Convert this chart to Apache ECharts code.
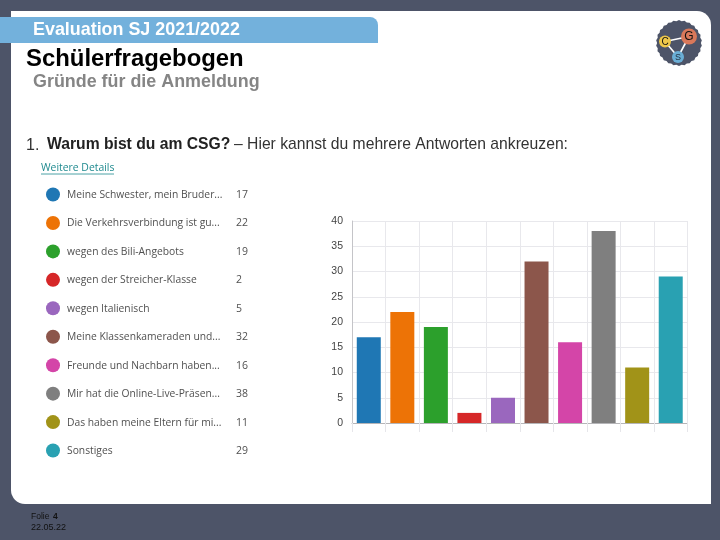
<!DOCTYPE html>
<html><head><meta charset="utf-8">
<style>html,body{margin:0;padding:0;background:#4d5468}#c{width:720px;height:540px}</style>
<script src="https://cdn.jsdelivr.net/npm/echarts@6/dist/echarts.min.js"></script>
</head><body><div id="c"></div>
<script>
const categories = ["Meine Schwester, mein Bruder...","Die Verkehrsverbindung ist gu...","wegen des Bili-Angebots","wegen der Streicher-Klasse","wegen Italienisch","Meine Klassenkameraden und...","Freunde und Nachbarn haben...","Mir hat die Online-Live-Präsen...","Das haben meine Eltern für mi...","Sonstiges"];
const values = [17,22,19,2,5,32,16,38,11,29];
const colors = ["#1f77b4","#ed7306","#2ca02c","#d62728","#9a67be","#8c564b","#d445a8","#7f7f7f","#a19318","#29a1b2"];
const yTicks = {min:0,max:40,interval:5};

const sans = '"Liberation Sans",Arial,sans-serif';
const ui = '"Open Sans","Noto Sans",sans-serif';
function T(x,y,text,size,color,weight,family,extra){
  return Object.assign({type:'text',x,y,style:{text,fontSize:size,fill:color,fontWeight:weight||'normal',fontFamily:family||sans,textVerticalAlign:'middle'}},extra||{});
}
function scallop(cx,cy,r,n){
  const p=[];
  for(let i=0;i<n*2;i++){const a=i*Math.PI/n;const rr=i%2?r:r-1.1;p.push([cx+rr*Math.cos(a),cy+rr*Math.sin(a)]);}
  return p;
}
const graphic=[
  {type:'rect',shape:{x:0,y:0,width:720,height:540},style:{fill:'#4d5468'}},
  {type:'rect',shape:{x:11,y:11,width:700,height:493,r:[0,14,0,14]},style:{fill:'#ffffff'}},
  {type:'rect',shape:{x:0,y:17,width:378,height:26,r:[0,8,0,0]},style:{fill:'#73b1dc'}},
  T(33,30,'Evaluation SJ 2021/2022',17.9,'#ffffff','bold'),
  T(26,59.5,'Schülerfragebogen',23.9,'#000000','bold'),
  T(33,82.5,'Gründe für die Anmeldung',17.9,'#858585','bold'),
  T(26,146,'1.',16,'#333333'),
  T(47,145,'Warum bist du am CSG?',15.7,'#222222','bold'),
  T(234,145,'– Hier kannst du mehrere Antworten ankreuzen:',15.7,'#333333'),
  T(41,168,'Weitere Details',10.4,'#1f8a8f','normal',ui),
  {type:'line',shape:{x1:41,y1:174,x2:114,y2:174},style:{stroke:'#1f8a8f',lineWidth:0.8}},
  T(31,517,'Folie ',8.5,'#111111'),
  T(53,517,'4',8.5,'#111111','bold'),
  T(31,528,'22.05.22',9,'#111111'),
  {type:'polygon',shape:{points:scallop(679,43,23,26)},style:{fill:'#4d5468'}},
  {type:'line',shape:{x1:665,y1:41.5,x2:689,y2:36.5},style:{stroke:'#fff',lineWidth:1.6}},
  {type:'line',shape:{x1:665,y1:41.5,x2:678,y2:57},style:{stroke:'#fff',lineWidth:1.6}},
  {type:'line',shape:{x1:689,y1:36.5,x2:678,y2:57},style:{stroke:'#fff',lineWidth:1.6}},
  {type:'circle',shape:{cx:665,cy:41.5,r:6},style:{fill:'#eec84a'}},
  {type:'circle',shape:{cx:689,cy:36.5,r:8},style:{fill:'#d9785a'}},
  {type:'circle',shape:{cx:678,cy:57,r:6},style:{fill:'#6aaed6'}},
  {type:'text',x:665,y:42,style:{text:'C',fontSize:10,fill:'#111',fontWeight:'normal',fontFamily:sans,align:'center',verticalAlign:'middle'}},
  {type:'text',x:689,y:37,style:{text:'G',fontSize:12,fill:'#111',fontWeight:'normal',fontFamily:sans,align:'center',verticalAlign:'middle'}},
  {type:'text',x:678,y:57.5,style:{text:'S',fontSize:9,fill:'#234',fontWeight:'normal',fontFamily:sans,align:'center',verticalAlign:'middle'}}
];
const chart=echarts.init(document.getElementById('c'),null,{renderer:'canvas'});
chart.setOption({
  animation:false,
  color:colors,
  graphic:{elements:graphic.map(g=>Object.assign({z:-10,zlevel:0},g))},
  grid:{left:352,right:32.5,top:221,bottom:117,containLabel:false},
  legend:{
    orient:'vertical',left:41,top:182.5,itemWidth:14,itemHeight:14,itemGap:14.45,icon:'circle',selectedMode:false,
    data:categories,
    formatter:n=>`{n|${n}}{v|${values[categories.indexOf(n)]}}`,
    textStyle:{rich:{
      n:{width:169,fontSize:10.3,color:'#505050',fontFamily:ui,padding:[1,0,0,2],lineHeight:14},
      v:{width:30,fontSize:10.5,color:'#505050',fontFamily:ui,padding:[1,0,0,0],lineHeight:14}
    }}
  },
  xAxis:{type:'category',data:categories,
    axisLabel:{show:false},
    axisLine:{lineStyle:{color:'#b5b5b8',width:1}},
    axisTick:{show:true,alignWithLabel:false,interval:0,length:9,lineStyle:{color:'#e6e6ea'}},
    splitLine:{show:true,interval:0,lineStyle:{color:'#e8e8ec',width:1}}},
  yAxis:{type:'value',min:yTicks.min,max:yTicks.max,interval:yTicks.interval,
    axisLine:{show:true,lineStyle:{color:'#c4c4c8',width:1}},
    axisTick:{show:false},
    axisLabel:{fontSize:10.5,color:'#444',fontFamily:sans,margin:9},
    splitLine:{show:true,lineStyle:{color:'#e8e8ec',width:1}}},
  series:categories.map((c,i)=>({
    type:'bar',name:c,stack:'all',barWidth:24,
    data:values.map((v,j)=>j===i?v:null),
    itemStyle:{color:colors[i]}
  }))
});
</script></body></html>
